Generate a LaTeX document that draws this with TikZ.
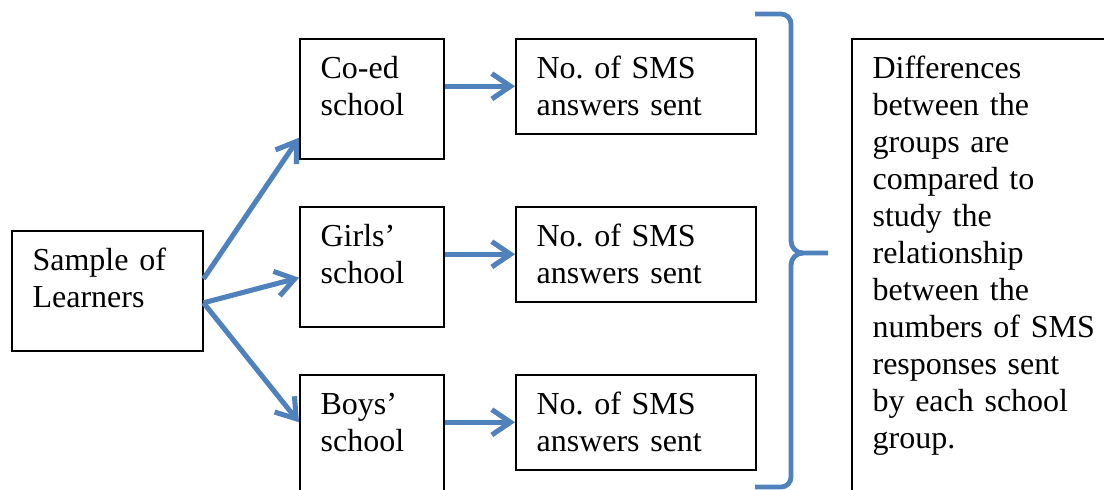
\documentclass[tikz,border=0pt]{standalone}
\usepackage{fontspec}
\setmainfont{Liberation Serif}
\usepackage{xcolor}
\usetikzlibrary{arrows.meta}
\definecolor{arrowblue}{RGB}{79,129,189}
\tikzstyle{box} = [draw, line width=0.6pt, anchor=north west, align=left, inner xsep=7.8pt, inner ysep=0pt, text height=14.7pt, font=\fontsize{12}{13.9}\selectfont\frenchspacing]
\tikzstyle{arrow} = [arrowblue, line width=1.9pt, -{Straight Barb[length=7pt,width=9.5pt]}]
\tikzstyle{brace} = [arrowblue, line width=1.8pt]

\begin{document}
\begin{tikzpicture}[x=0.375pt, y=-0.375pt]
\useasboundingbox (0,0) rectangle (1104,489);
\clip (0,0) rectangle (1104,489);

\node[box, text width=56pt, text depth=30.3pt] (learners) at (11,230) {Sample of\\Learners};

\node[box, text width=38.4pt, text depth=30.3pt] (coed) at (299,38) {Co-ed\\school};
\node[box, text width=38.4pt, text depth=30.3pt] (girls) at (299,206) {Girls’\\school};
\node[box, text width=38.4pt, text depth=30.3pt] (boys) at (299,374) {Boys’\\school};

\node[box, text width=74.4pt, text depth=20.9pt] (coedsms) at (515,38) {No. of SMS\\answers sent};
\node[box, text width=74.4pt, text depth=20.9pt] (girlssms) at (515,206) {No. of SMS\\answers sent};
\node[box, text width=74.4pt, text depth=20.9pt] (boyssms) at (515,374) {No. of SMS\\answers sent};

\node[box, text width=100pt, text depth=160pt] (differences) at (851,38) {Differences\\between the\\groups are\\compared to\\study the\\relationship\\between the\\numbers of SMS\\responses sent\\by each school\\group.};

\draw[arrow] ([yshift=4.5pt]learners.east) -- ([yshift=8.2pt]coed.south west);
\draw[arrow] ([yshift=-4.5pt]learners.east) -- ([yshift=-4.1pt]girls.west);
\draw[arrow] ([yshift=-4.5pt]learners.east) -- (boys.west |- boyssms.west);

\draw[arrow] (coed.east |- coedsms.west) -- (coedsms.west);
\draw[arrow] (girls.east |- girlssms.west) -- (girlssms.west);
\draw[arrow] (boys.east |- boyssms.west) -- (boyssms.west);

% brace
\draw[brace] (755,14) -- (781,14) to[out=0,in=90] (791,24) -- (791,241) to[out=-90,in=180] (803,253) -- (828,253);
\draw[brace] (803,253) to[out=180,in=90] (791,265) -- (791,477) to[out=-90,in=0] (781,487) -- (755,487);
\end{tikzpicture}
\end{document}
